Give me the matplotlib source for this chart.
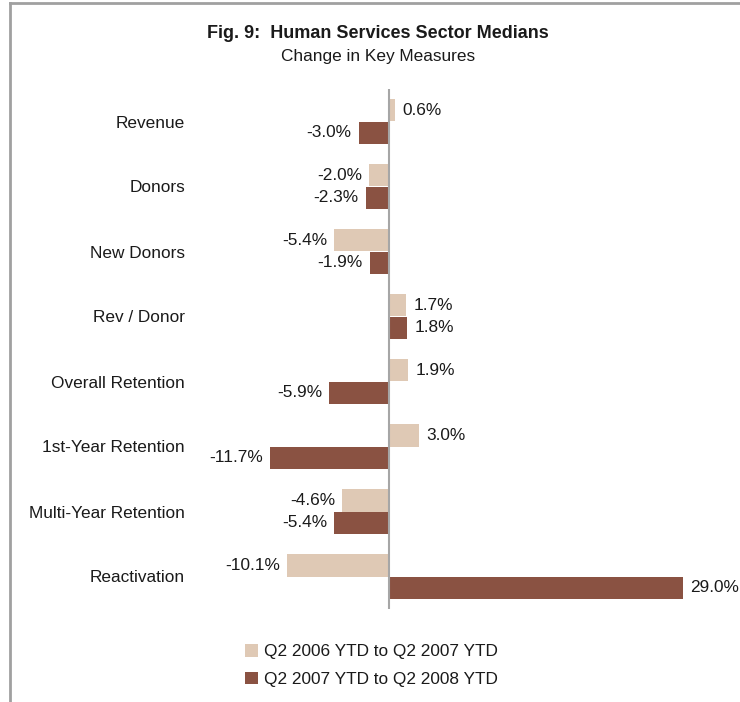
import matplotlib
matplotlib.use("Agg")
import matplotlib.pyplot as plt
from matplotlib.lines import Line2D
import numpy as np

plt.rcParams['font.family'] = ['Liberation Sans', 'DejaVu Sans']

categories = ["Revenue", "Donors", "New Donors", "Rev / Donor", "Overall Retention",
              "1st-Year Retention", "Multi-Year Retention", "Reactivation"]
chg_0607 = [0.6, -2.0, -5.4, 1.7, 1.9, 3.0, -4.6, -10.1]
chg_0708 = [-3.0, -2.3, -1.9, 1.8, -5.9, -11.7, -5.4, 29.0]
series_names = ["Q2 2006 YTD to Q2 2007 YTD", "Q2 2007 YTD to Q2 2008 YTD"]

tan = "#DFC9B5"
brown = "#8A5242"
txt = "#1a1a1a"
fs = 12.4

W, H = 740, 702
fig = plt.figure(figsize=(W / 100, H / 100), dpi=100)
fig.patch.set_facecolor("white")

# axes placed so zero sits at x=389px, 8 rows from y=89 to 609
ax = fig.add_axes([237 / W, 1 - 609 / H, 455.9 / W, 520 / H])
y = np.arange(len(categories))
h = 0.34
b1 = ax.barh(y - h / 2, chg_0607, height=h, color=tan, label=series_names[0])
b2 = ax.barh(y + h / 2, chg_0708, height=h, color=brown, label=series_names[1])

ax.set_xlim(-15, 30)
ax.set_ylim(len(categories) - 0.5, -0.5)
ax.axvline(0, color="#a6a6a6", lw=1.5, zorder=3)

for bars, vals in ((b1, chg_0607), (b2, chg_0708)):
    for bar, v in zip(bars, vals):
        yc = bar.get_y() + bar.get_height() / 2
        off = 5 if v >= 0 else -5
        ax.annotate(f"{v:.1f}%", (v, yc), xytext=(off, 0), textcoords="offset points",
                    ha="left" if v >= 0 else "right", va="center", fontsize=fs, color=txt)

ax.set_yticks(y)
ax.set_yticklabels(categories, fontsize=fs, color=txt)
ax.tick_params(axis="y", length=0, pad=37.4)
ax.set_xticks([])
for s in ax.spines.values():
    s.set_visible(False)

fig.text(378 / W, 1 - 33 / H, "Fig. 9:  Human Services Sector Medians", ha="center", va="center",
         fontsize=13.0, fontweight="bold", color=txt)
fig.text(378 / W, 1 - 57 / H, "Change in Key Measures", ha="center", va="center",
         fontsize=fs, color=txt)

fig.legend(handles=[b1, b2], labels=series_names, loc="upper left",
           bbox_to_anchor=(245 / W, 1 - 644 / H), frameon=False, fontsize=fs,
           handlelength=0.75, handleheight=0.75, handletextpad=0.35, labelspacing=0.72,
           borderpad=0, borderaxespad=0, labelcolor=txt)

# chart border (left and top edges visible)
fig.add_artist(Line2D([9.5 / W, 9.5 / W], [0, 1 - 2.5 / H], color="#a0a0a0", lw=2))
fig.add_artist(Line2D([9.5 / W, 1], [1 - 2.5 / H, 1 - 2.5 / H], color="#a0a0a0", lw=2))

fig.savefig("out.png", dpi=100)
